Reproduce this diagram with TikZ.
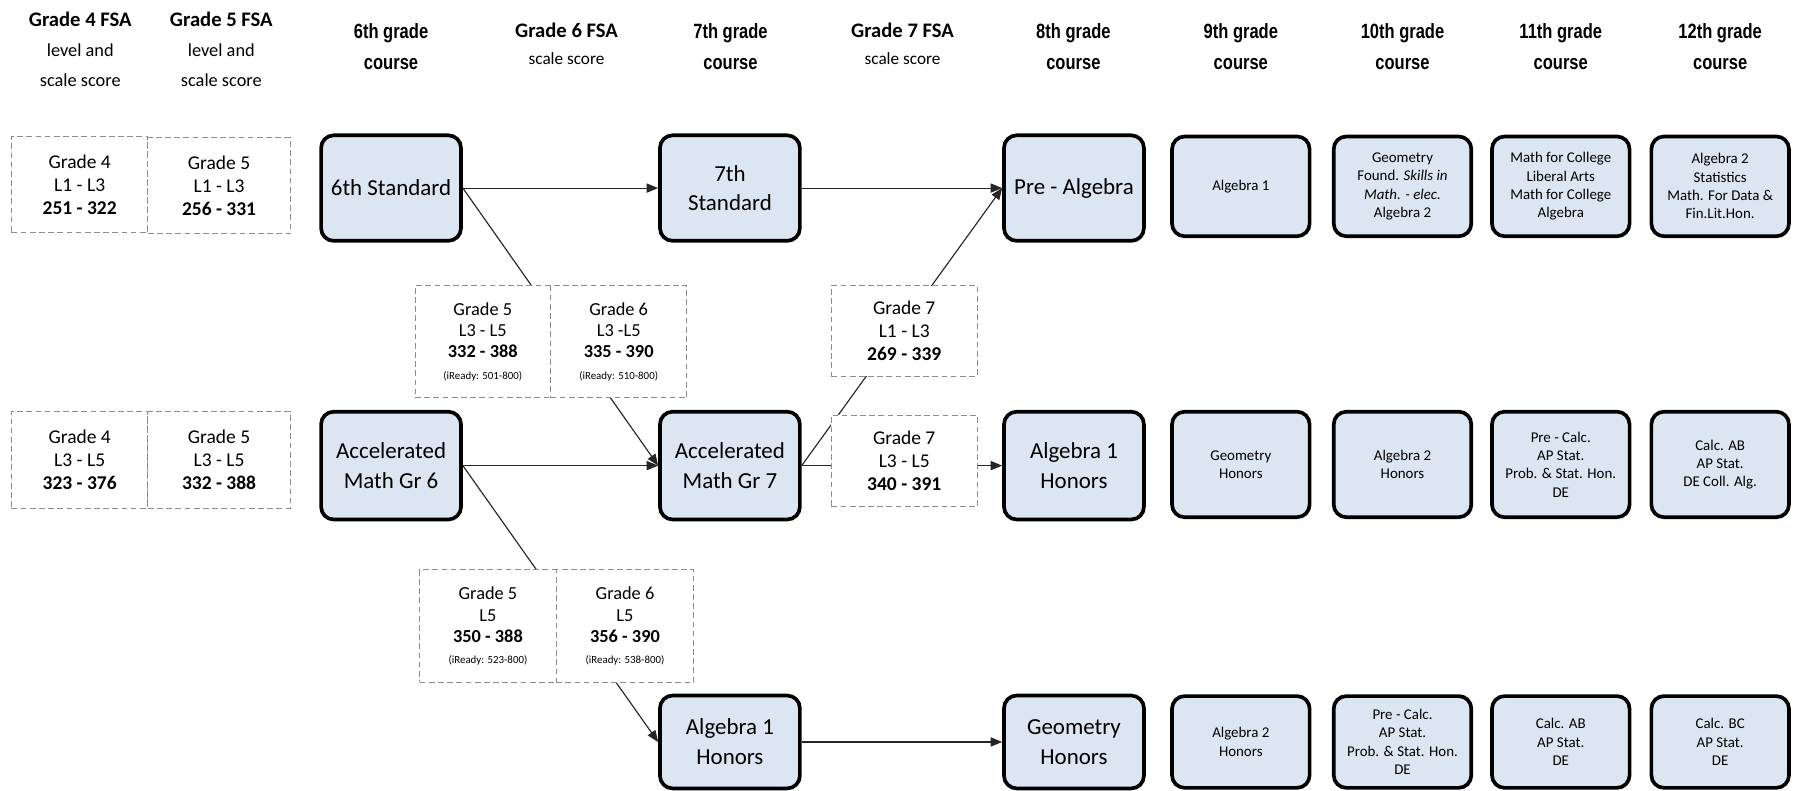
\documentclass[tikz,border=0pt]{standalone}
\usepackage{fontspec}
\setmainfont{Carlito}
\newfontfamily\narrowfont[FakeStretch=0.8]{Liberation Sans}
\usetikzlibrary{arrows.meta}
\definecolor{boxblue}{RGB}{220,230,242}
\begin{document}
\begin{tikzpicture}[x=1pt,y=-1pt,
  coursebox/.style={draw=black, line width=3.2pt, rounded corners=11pt, fill=boxblue,
    align=center, inner sep=0pt, minimum width=122pt, font=\fontsize{20}{26}\selectfont},
  rightbox/.style={coursebox, minimum width=120pt, font=\fontsize{13}{16}\selectfont},
  scorebox/.style={draw=black!45, dash pattern=on 5pt off 3pt, line width=0.8pt, fill=white,
    align=center, inner sep=0pt, font=\fontsize{17}{20}\selectfont},
  pairbox/.style={scorebox, font=\fontsize{16}{18.5}\selectfont},
  fsahead/.style={align=center, inner sep=0pt, font=\fontsize{16}{26.5}\selectfont},
  fsahead2/.style={align=center, inner sep=0pt, font=\fontsize{15}{24}\selectfont},
  coursehead/.style={align=center, inner sep=0pt, font=\narrowfont\bfseries\fontsize{18}{27}\selectfont},
  link/.style={draw=black!85, line width=1pt, -{Triangle[length=10pt,width=8pt]}}
]
\useasboundingbox (0,0) rectangle (1567,689);

% headers
\node[fsahead] (hg4) at (70,43) {{\bfseries\fontsize{18}{26.5}\selectfont Grade 4 FSA}\\level and\\scale score};
\node[fsahead] (hg5) at (193,43) {{\bfseries\fontsize{18}{26.5}\selectfont Grade 5 FSA}\\level and\\scale score};
\node[coursehead] (hc6) at (341,41) {6th grade\\course};
\node[fsahead2] (hg6) at (494,38) {{\bfseries\fontsize{18}{24}\selectfont Grade 6 FSA}\\scale score};
\node[coursehead] (hc7) at (637,41) {7th grade\\course};
\node[fsahead2] (hg7) at (787,38) {{\bfseries\fontsize{18}{24}\selectfont Grade 7 FSA}\\scale score};
\node[coursehead] (hc8) at (936,41) {8th grade\\course};
\node[coursehead] (hc9) at (1082,41) {9th grade\\course};
\node[coursehead] (hc10) at (1223,41) {10th grade\\course};
\node[coursehead] (hc11) at (1361,41) {11th grade\\course};
\node[coursehead] (hc12) at (1500,41) {12th grade\\course};

% main course boxes
\node[coursebox, minimum height=92pt] (s6) at (341,164) {6th Standard};
\node[coursebox, minimum height=92pt] (s7) at (636.5,164) {7th\\Standard};
\node[coursebox, minimum height=92pt] (pa) at (936.5,164) {Pre - Algebra};
\node[coursebox, minimum height=94pt] (a6) at (341,406) {Accelerated\\Math Gr 6};
\node[coursebox, minimum height=94pt] (a7) at (636.5,406) {Accelerated\\Math Gr 7};
\node[coursebox, minimum height=94pt] (h8) at (936.5,406) {Algebra 1\\Honors};
\node[coursebox, minimum height=81pt] (h7) at (636.5,647) {Algebra 1\\Honors};
\node[coursebox, minimum height=81pt] (g8) at (936.5,647) {Geometry\\Honors};

% right boxes
\node[rightbox, minimum height=87pt] (r9a) at (1082,162.5) {Algebra 1};
\node[rightbox, minimum height=87pt] (r10a) at (1223,162.5) {Geometry\\Found. \textit{Skills in}\\\textit{Math. - elec.}\\Algebra 2};
\node[rightbox, minimum height=87pt] (r11a) at (1361,162.5) {Math for College\\Liberal Arts\\Math for College\\Algebra};
\node[rightbox, minimum height=87pt] (r12a) at (1500,162.5) {Algebra 2\\Statistics\\Math. For Data \&\\Fin.Lit.Hon.};
\node[rightbox, minimum height=92pt] (r9b) at (1082,405) {Geometry\\Honors};
\node[rightbox, minimum height=92pt] (r10b) at (1223,405) {Algebra 2\\Honors};
\node[rightbox, minimum height=92pt] (r11b) at (1361,405) {Pre - Calc.\\AP Stat.\\Prob. \& Stat. Hon.\\DE};
\node[rightbox, minimum height=92pt] (r12b) at (1500,405) {Calc. AB\\AP Stat.\\DE Coll. Alg.};
\node[rightbox, minimum height=80pt] (r9c) at (1082,647) {Algebra 2\\Honors};
\node[rightbox, minimum height=80pt] (r10c) at (1223,647) {Pre - Calc.\\AP Stat.\\Prob. \& Stat. Hon.\\DE};
\node[rightbox, minimum height=80pt] (r11c) at (1361,647) {Calc. AB\\AP Stat.\\DE};
\node[rightbox, minimum height=80pt] (r12c) at (1500,647) {Calc. BC\\AP Stat.\\DE};

% connectors
\draw[link] (s6.east) -- (s7.west);
\draw[link] (s7.east) -- (pa.west);
\draw[link] (s6.east) -- (a7.west);
\draw[link] (a6.east) -- (a7.west);
\draw[link] (a7.east) -- (pa.west);
\draw[link] (a7.east) -- (h8.west);
\draw[link] (a6.east) -- (h7.west);
\draw[link] (h7.east) -- (g8.west);

% score boxes
\node[scorebox, minimum width=119pt, minimum height=84pt] (d4a) at (69.5,161) {Grade 4\\L1 - L3\\\textbf{251 - 322}};
\node[scorebox, minimum width=124pt, minimum height=84pt] (d5a) at (191,162) {Grade 5\\L1 - L3\\\textbf{256 - 331}};
\node[scorebox, minimum width=119pt, minimum height=84pt] (d4b) at (69.5,401) {Grade 4\\L3 - L5\\\textbf{323 - 376}};
\node[scorebox, minimum width=124pt, minimum height=84pt] (d5b) at (191,401) {Grade 5\\L3 - L5\\\textbf{332 - 388}};
\node[pairbox, minimum width=118pt, minimum height=98pt] (p5a) at (421,298) {Grade 5\\L3 - L5\\\textbf{332 - 388}\\{\fontsize{9.5}{17}\selectfont (iReady: 501-800)}};
\node[pairbox, minimum width=119pt, minimum height=98pt] (p6a) at (539.5,298) {Grade 6\\L3 -L5\\\textbf{335 - 390}\\{\fontsize{9.5}{17}\selectfont (iReady: 510-800)}};
\node[scorebox, minimum width=127pt, minimum height=79pt] (g7a) at (788.5,288.5) {Grade 7\\L1 - L3\\\textbf{269 - 339}};
\node[scorebox, minimum width=127pt, minimum height=80pt] (g7b) at (788.5,402) {Grade 7\\L3 - L5\\\textbf{340 - 391}};
\node[pairbox, minimum width=119pt, minimum height=98pt] (p5b) at (425.5,546) {Grade 5\\L5\\\textbf{350 - 388}\\{\fontsize{9.5}{17}\selectfont (iReady: 523-800)}};
\node[pairbox, minimum width=120pt, minimum height=98pt] (p6b) at (545,546) {Grade 6\\L5\\\textbf{356 - 390}\\{\fontsize{9.5}{17}\selectfont (iReady: 538-800)}};
\end{tikzpicture}
\end{document}
